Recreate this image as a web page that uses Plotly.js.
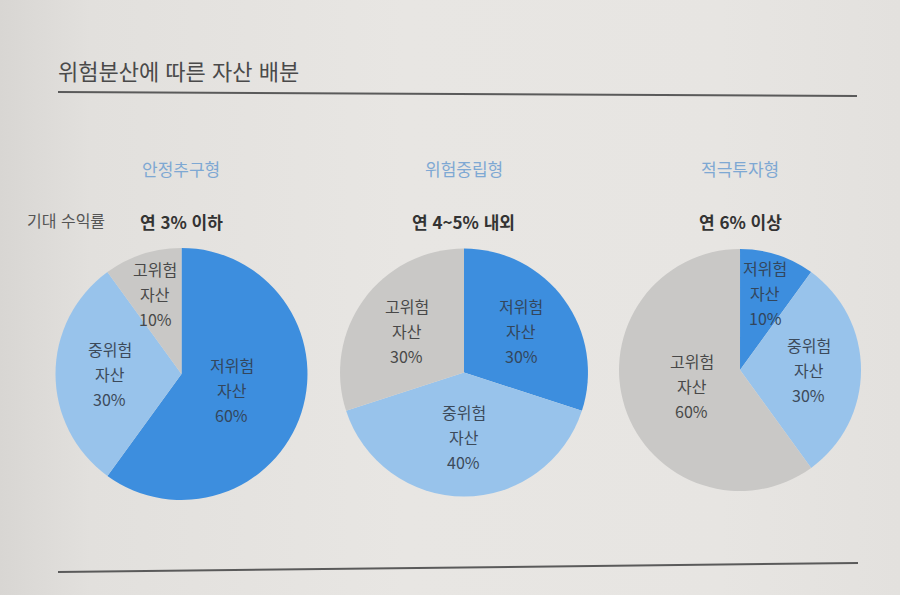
<!DOCTYPE html>
<html lang="ko">
<head>
<meta charset="utf-8">
<script src="https://cdn.plot.ly/plotly-3.0.1.min.js"></script>
<style>
  html, body { margin: 0; padding: 0; }
  body {
    width: 900px; height: 595px; overflow: hidden;
    background: linear-gradient(90deg, #d8d6d3 0%, #e2e0dd 10%, #e8e6e3 45%, #e7e5e2 80%, #e3e1de 100%);
  }
  #chart { width: 900px; height: 595px; }
</style>
</head>
<body>
<div id="chart"></div>
<script>
// 자산 구분 (저·중·고위험)
const riskLevels = ['저위험', '중위험', '고위험'];
const riskColors = ['#3d8ede', '#98c3eb', '#c9c8c6'];
const labelColors = ['#33465c', '#3c4a5a', '#484848'];

// 투자 성향별 이름과 기대 수익률
const profiles = ['안정추구형', '위험중립형', '적극투자형'];
const expectedReturns = ['연 3% 이하', '연 4~5% 내외', '연 6% 이상'];

// 성향별 자산 비중(%) — 저위험, 중위험, 고위험 순
const stableShares = [60, 30, 10];
const neutralShares = [30, 40, 30];
const aggressiveShares = [10, 30, 60];
const allShares = [stableShares, neutralShares, aggressiveShares];

// 각 원그래프가 차지하는 영역 (paper 좌표)
const domains = [
  { x: [0.0611, 0.3422], y: [0.1597, 0.5832] },
  { x: [0.3778, 0.6533], y: [0.1647, 0.5832] },
  { x: [0.6878, 0.9567], y: [0.1731, 0.5832] }
];

const W = 900, H = 595;
const KR = '"Noto Sans CJK KR", "Noto Sans", sans-serif';

const traces = allShares.map((shares, i) => ({
  type: 'pie',
  labels: riskLevels,
  values: shares,
  sort: false,
  direction: 'clockwise',
  rotation: 0,
  domain: domains[i],
  marker: { colors: riskColors, line: { width: 0 } },
  textinfo: 'none',
  hoverinfo: 'label+percent',
  showlegend: false
}));

const annotations = [];

// 조각 안의 라벨: 각 조각의 가운데 각도 방향으로, 비중이 작을수록 바깥쪽에 배치
allShares.forEach((shares, i) => {
  const d = domains[i];
  const cx = (d.x[0] + d.x[1]) / 2 * W;
  const cy = (1 - (d.y[0] + d.y[1]) / 2) * H;
  const R = Math.min((d.x[1] - d.x[0]) * W, (d.y[1] - d.y[0]) * H) / 2;
  const total = shares.reduce((a, b) => a + b, 0);
  let cum = 0;
  shares.forEach((v, k) => {
    const mid = (cum + v / 2) / total * 2 * Math.PI;   // 12시 방향에서 시계방향
    cum += v;
    const f = 0.72 - 0.005 * v;
    const px = cx + f * R * Math.sin(mid);
    const py = cy - f * R * Math.cos(mid);
    const lines = [riskLevels[k], '자산', v + '%'];
    lines.forEach((t, j) => {
      annotations.push({
        xref: 'paper', yref: 'paper', x: px / W, y: 1 - (py + (j - 1) * 25) / H,
        text: t, showarrow: false, xanchor: 'center', yanchor: 'middle',
        font: { family: KR, size: 16, color: labelColors[k] }
      });
    });
  });
});

// 원그래프 위 제목과 기대 수익률
domains.forEach((d, i) => {
  const cx = (d.x[0] + d.x[1]) / 2;
  annotations.push({
    xref: 'paper', yref: 'paper', x: cx, y: 1 - 168 / H,
    text: profiles[i], showarrow: false, xanchor: 'center', yanchor: 'middle',
    font: { family: KR, size: 17, color: '#7ea8d3' }
  });
  annotations.push({
    xref: 'paper', yref: 'paper', x: cx, y: 1 - 221 / H,
    text: '<b>' + expectedReturns[i] + '</b>', showarrow: false, xanchor: 'center', yanchor: 'middle',
    font: { family: KR, size: 17, color: '#333333' }
  });
});
annotations.push({
  xref: 'paper', yref: 'paper', x: 25 / W, y: 1 - 220 / H,
  text: '기대 수익률', showarrow: false, xanchor: 'left', yanchor: 'middle',
  font: { family: KR, size: 16, color: '#555555' }
});
annotations.push({
  xref: 'paper', yref: 'paper', x: 56 / W, y: 1 - 70 / H,
  text: '위험분산에 따른 자산 배분', showarrow: false, xanchor: 'left', yanchor: 'middle',
  font: { family: KR, size: 22, color: '#4a4a4a' }
});

// 제목 밑줄과 하단 구분선
const shapes = [
  { type: 'line', xref: 'paper', yref: 'paper',
    x0: 58 / W, y0: 1 - 92 / H, x1: 857 / W, y1: 1 - 96 / H,
    line: { color: '#5a5a5a', width: 2 } },
  { type: 'line', xref: 'paper', yref: 'paper',
    x0: 58 / W, y0: 1 - 572 / H, x1: 858 / W, y1: 1 - 563 / H,
    line: { color: '#5a5a5a', width: 2 } }
];

const layout = {
  width: W, height: H,
  margin: { l: 0, r: 0, t: 0, b: 0 },
  paper_bgcolor: 'rgba(0,0,0,0)',
  plot_bgcolor: 'rgba(0,0,0,0)',
  annotations: annotations,
  shapes: shapes
};

Plotly.newPlot('chart', traces, layout, { displayModeBar: false, staticPlot: true });
</script>
</body>
</html>
